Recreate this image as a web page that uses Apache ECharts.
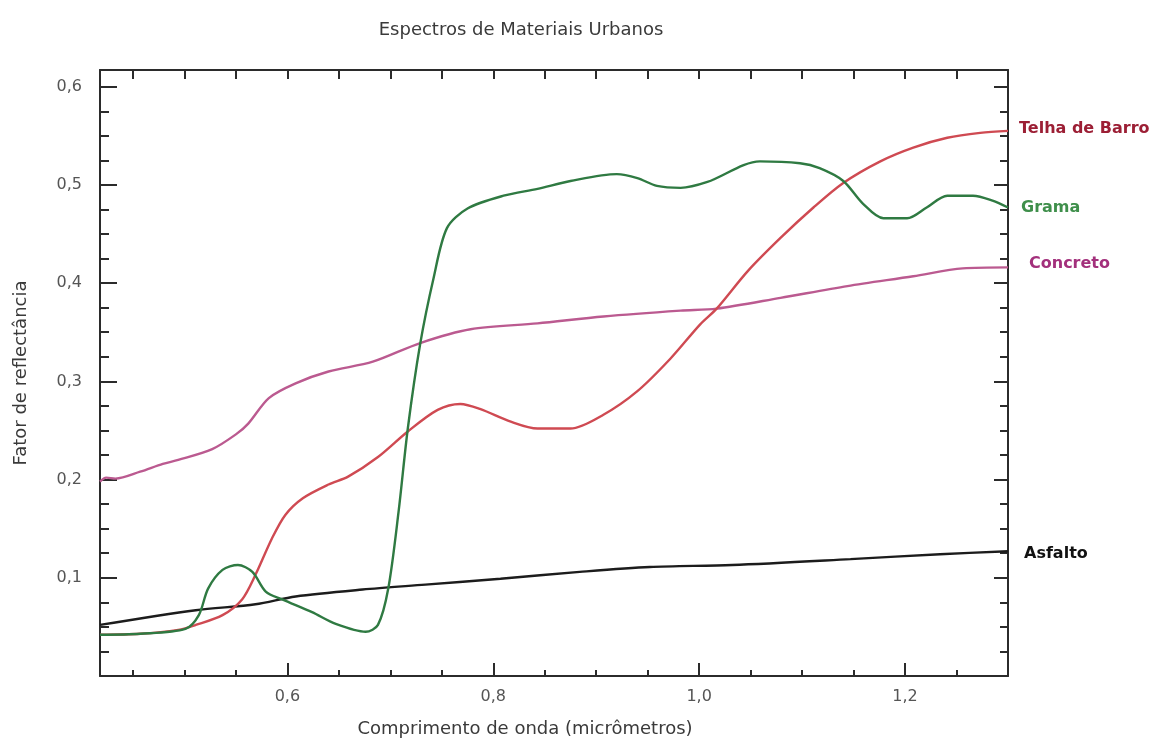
<!DOCTYPE html>
<html>
<head>
<meta charset="utf-8">
<script src="https://cdn.jsdelivr.net/npm/echarts@6/dist/echarts.min.js"></script>
<style>html,body{margin:0;padding:0;background:#fff}#c{width:1162px;height:743px}</style>
</head>
<body>
<div id="c"></div>
<script>
// ---- data ----
const telhaX = [0.418,0.457,0.494,0.511,0.537,0.556,0.569,0.585,0.598,0.615,0.640,0.659,0.688,0.717,0.746,0.768,0.787,0.817,0.843,0.875,0.907,0.940,0.972,1.001,1.017,1.047,1.079,1.111,1.140,1.176,1.208,1.241,1.273,1.300];
const telhaY = [0.042,0.043,0.047,0.052,0.062,0.078,0.103,0.140,0.164,0.181,0.195,0.203,0.223,0.249,0.271,0.277,0.272,0.259,0.252,0.252,0.266,0.290,0.323,0.358,0.374,0.412,0.446,0.477,0.502,0.524,0.538,0.548,0.553,0.555];

const gramaX = [0.418,0.457,0.501,0.514,0.523,0.537,0.552,0.566,0.579,0.595,0.624,0.647,0.676,0.688,0.698,0.708,0.717,0.729,0.742,0.755,0.775,0.810,0.843,0.875,0.920,0.940,0.959,0.982,1.008,1.059,1.098,1.117,1.140,1.159,1.179,1.202,1.221,1.241,1.266,1.285,1.300];
const gramaY = [0.042,0.043,0.048,0.062,0.089,0.108,0.113,0.106,0.086,0.078,0.065,0.053,0.045,0.052,0.089,0.167,0.252,0.338,0.405,0.456,0.476,0.489,0.496,0.504,0.511,0.507,0.499,0.497,0.503,0.524,0.522,0.517,0.504,0.481,0.466,0.466,0.477,0.489,0.489,0.484,0.477];

const concretoX = [0.418,0.424,0.433,0.457,0.479,0.494,0.527,0.550,0.562,0.582,0.608,0.640,0.683,0.729,0.778,0.843,0.907,0.982,1.017,1.079,1.144,1.208,1.256,1.300];
const concretoY = [0.198,0.202,0.201,0.208,0.216,0.220,0.231,0.246,0.257,0.283,0.298,0.310,0.320,0.339,0.353,0.359,0.366,0.372,0.374,0.385,0.397,0.407,0.415,0.416];

const asfaltoX = [0.418,0.511,0.569,0.608,0.673,0.734,0.807,0.884,0.952,1.032,1.147,1.234,1.300];
const asfaltoY = [0.052,0.067,0.073,0.081,0.088,0.093,0.099,0.106,0.111,0.113,0.119,0.124,0.127];

const xTickLabels = [0.6, 0.8, 1.0, 1.2];
const xMinorTicks = [0.45,0.5,0.55,0.6,0.65,0.7,0.75,0.8,0.85,0.9,0.95,1.0,1.05,1.1,1.15,1.2,1.25];
const yTickLabels = [0.1, 0.2, 0.3, 0.4, 0.5, 0.6];
const yMinorTicks = [0.025,0.05,0.075,0.1,0.125,0.15,0.175,0.2,0.225,0.25,0.275,0.3,0.325,0.35,0.375,0.4,0.425,0.45,0.475,0.5,0.525,0.55,0.575,0.6];

const seriesNames = ['Telha de Barro', 'Grama', 'Concreto', 'Asfalto'];

// ---- chart ----
const pairs = (xs, ys) => xs.map((x, i) => [x, ys[i]]);
const fmt = v => v.toFixed(1).replace('.', ',');
const FONT = 'DejaVu Sans';
const AX = '#2b2b2b';
const XMIN = 0.418, XMAX = 1.30, YMIN = 0, YMAX = 0.617;

function xAx(extra) {
  return Object.assign({
    type: 'value', min: XMIN, max: XMAX, splitLine: {show: false},
    axisLine: {show: false}, axisLabel: {show: false}, axisTick: {show: false}
  }, extra);
}
function yAx(extra) {
  return Object.assign({
    type: 'value', min: YMIN, max: YMAX, splitLine: {show: false},
    axisLine: {show: false}, axisLabel: {show: false}, axisTick: {show: false}
  }, extra);
}

const lineCfg = [
  {name: seriesNames[0], data: pairs(telhaX, telhaY), color: '#cf4a52', label: '#9c1f35', off: [3, -2], z: 3},
  {name: seriesNames[1], data: pairs(gramaX, gramaY), color: '#2f7a42', label: '#3f8f4b', off: [5, 0], z: 4},
  {name: seriesNames[2], data: pairs(concretoX, concretoY), color: '#bb5a90', label: '#a3307c', off: [13, -4], z: 2},
  {name: seriesNames[3], data: pairs(asfaltoX, asfaltoY), color: '#1c1c1c', label: '#111111', off: [8, 3], z: 1}
];

const option = {
  backgroundColor: '#ffffff',
  animation: false,
  textStyle: {fontFamily: FONT},
  title: {
    text: 'Espectros de Materiais Urbanos',
    left: 516, top: 16, textAlign: 'center',
    textStyle: {fontFamily: FONT, fontSize: 18, fontWeight: 'normal', color: '#3a3a3a'}
  },
  grid: {left: 100, right: 154, top: 70, bottom: 67, containLabel: false},
  xAxis: [
    xAx({
      position: 'bottom',
      name: 'Comprimento de onda (micrômetros)', nameLocation: 'middle', nameGap: 44,
      nameTextStyle: {fontFamily: FONT, fontSize: 18, color: '#3a3a3a', padding: [0, 58, 0, 0]},
      axisLine: {show: true, onZero: false, lineStyle: {color: AX, width: 2}},
      axisTick: {show: true, inside: true, length: 13, customValues: xTickLabels, lineStyle: {color: AX, width: 2}},
      axisLabel: {show: true, customValues: xTickLabels, formatter: fmt, margin: 13,
        fontFamily: FONT, fontSize: 16, color: '#555'}
    }),
    xAx({
      position: 'bottom',
      axisTick: {show: true, inside: true, length: 6, customValues: xMinorTicks, lineStyle: {color: AX, width: 2}}
    }),
    xAx({
      position: 'top',
      axisLine: {show: true, onZero: false, lineStyle: {color: AX, width: 2}},
      axisTick: {show: true, inside: true, length: 9, customValues: xMinorTicks, lineStyle: {color: AX, width: 2}}
    })
  ],
  yAxis: [
    yAx({
      position: 'left',
      name: 'Fator de reflectância', nameLocation: 'middle', nameGap: 70, nameRotate: 90,
      nameTextStyle: {fontFamily: FONT, fontSize: 18, color: '#3a3a3a'},
      axisLine: {show: true, onZero: false, lineStyle: {color: AX, width: 2}},
      axisTick: {show: true, inside: true, length: 17, customValues: yTickLabels, lineStyle: {color: AX, width: 2}},
      axisLabel: {show: true, customValues: yTickLabels, formatter: fmt, margin: 18,
        fontFamily: FONT, fontSize: 16, color: '#555'}
    }),
    yAx({
      position: 'left',
      axisTick: {show: true, inside: true, length: 9, customValues: yMinorTicks, lineStyle: {color: AX, width: 2}}
    }),
    yAx({
      position: 'right',
      axisLine: {show: true, onZero: false, lineStyle: {color: AX, width: 2}},
      axisTick: {show: true, inside: true, length: 14, customValues: yTickLabels, lineStyle: {color: AX, width: 2}}
    }),
    yAx({
      position: 'right',
      axisTick: {show: true, inside: true, length: 8, customValues: yMinorTicks, lineStyle: {color: AX, width: 2}}
    })
  ],
  series: lineCfg.map(c => ({
    name: c.name, type: 'line', xAxisIndex: 0, yAxisIndex: 0,
    data: c.data, showSymbol: false, symbol: 'none',
    smooth: 0.3, z: c.z,
    lineStyle: {color: c.color, width: 2.4},
    endLabel: {
      show: true, formatter: c.name, offset: c.off,
      fontFamily: FONT, fontSize: 16, fontWeight: 'bold', color: c.label
    }
  }))
};

const chart = echarts.init(document.getElementById('c'), null, {renderer: 'canvas'});
chart.setOption(option);
</script>
</body>
</html>
